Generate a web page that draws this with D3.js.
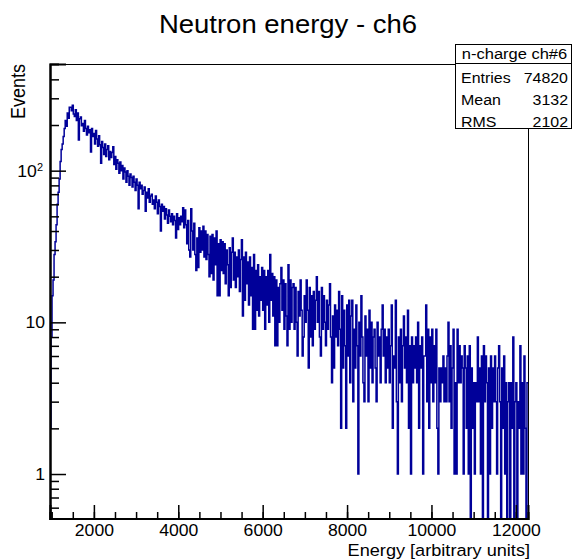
<!DOCTYPE html>
<html>
<head>
<meta charset="utf-8">
<script src="https://cdn.jsdelivr.net/npm/d3@7"></script>
<style>
  html, body { margin: 0; padding: 0; background: #fff; }
  svg { display: block; font-family: "Liberation Sans", Arial, Helvetica, sans-serif; }
</style>
</head>
<body>
<svg id="chart" width="572" height="559"></svg>
<script>
// Histogram binning: fixed-width bins starting at binStart
const binStart = 960;
const binWidth = 24;

// Events per bin
const counts = [
  2, 8, 15, 19, 28, 34, 44, 60, 72, 88,
  115, 138, 150, 168, 190, 214, 196, 240, 222, 262,
  262, 248, 270, 236, 228, 252, 214, 240, 159, 220,
  226, 198, 205, 182, 214, 190, 172, 196, 178, 186,
  133, 190, 168, 176, 150, 184, 162, 145, 170, 148,
  112, 156, 142, 128, 150, 124, 138, 146, 118, 134,
  122, 132, 144, 110, 124, 102, 118, 112, 96, 114,
  100, 108, 88, 104, 98, 84, 100, 92, 80, 95,
  90, 78, 92, 84, 74, 88, 80, 56, 84, 76,
  80, 70, 74, 78, 54, 72, 66, 76, 62, 68,
  70, 60, 64, 56, 68, 62, 52, 64, 58, 40,
  60, 54, 58, 48, 56, 51, 45, 55, 50, 46,
  52, 44, 50, 47, 36, 52, 41, 49, 44, 50,
  46, 57, 42, 55, 44, 33, 47, 30, 27, 56,
  40, 30, 45, 28, 22, 36, 23, 42, 29, 40,
  30, 43, 27, 40, 26, 38, 28, 20, 37, 21,
  38, 19, 36, 24, 40, 15, 33, 15, 35, 22,
  34, 21, 33, 18, 30, 24, 15, 31, 17, 29,
  36, 19, 29, 17, 27, 20, 30, 16, 26, 35,
  11, 27, 14, 29, 18, 25, 13, 27, 15, 23,
  9, 28, 9, 22, 12, 24, 11, 20, 14, 23,
  12, 22, 9, 20, 13, 22, 10, 28, 14, 21,
  11, 20, 7, 19, 7, 17, 10, 18, 23, 12,
  19, 9, 18, 11, 7, 24, 9, 19, 10, 17,
  18, 9, 17, 10, 6, 16, 11, 19, 12, 6,
  8, 15, 10, 19, 12, 5, 17, 8, 15, 7,
  16, 9, 14, 20, 10, 16, 8, 6, 17, 9,
  15, 10, 7, 14, 9, 13, 18, 8, 4, 11,
  5, 13, 8, 12, 7, 16, 9, 2, 15, 5,
  12, 7, 2, 13, 6, 14, 4, 11, 14, 3,
  9, 5, 13, 7, 1, 10, 6, 15, 8, 4,
  3, 11, 6, 9, 3, 12, 5, 10, 4, 8,
  9, 5, 3, 10, 6, 8, 4, 9, 13, 6,
  9, 4, 8, 5, 9, 4, 7, 13, 2, 6,
  5, 14, 3, 1, 8, 4, 9, 3, 7, 11,
  5, 8, 4, 12, 2, 7, 1, 8, 4, 7,
  5, 8, 4, 10, 2, 7, 5, 8, 1, 6,
  6, 13, 3, 9, 2, 8, 4, 9, 3, 7,
  4, 9, 2, 1, 5, 3, 5, 4, 6, 3,
  5, 3, 6, 10, 3, 7, 2, 5, 9, 1,
  4, 1, 9, 4, 7, 4, 6, 5, 1, 7,
  5, 2, 6, 1, 7, 0, 5, 2, 4, 1,
  4, 3, 8, 3, 5, 1, 6, 0, 7, 3,
  6, 4, 0, 5, 1, 6, 2, 5, 3, 6,
  3, 1, 5, 7, 3, 0, 5, 2, 6, 1,
  4, 0, 3, 4, 0, 4, 2, 8, 0, 3,
  4, 0, 3, 2, 7, 1, 4, 1, 6, 2,
  0, 4
];

// Axis ranges and ticks
const xRange = [960, 12288];
const yRange = [0.509, 505];
const xMajorTicks = [2000, 4000, 6000, 8000, 10000, 12000];
const xMinorTicks = d3.range(1000, 12001, 500);
const yMajorTicks = [1, 10, 100];
const yMajorLabels = [["1", ""], ["10", ""], ["10", "2"]];
const yMinorTicks = [0.6, 0.7, 0.8, 0.9, 2, 3, 4, 5, 6, 7, 8, 9,
                     20, 30, 40, 50, 60, 70, 80, 90, 200, 300, 400];

// Text content
const titleText = "Neutron energy - ch6";
const xTitle = "Energy [arbitrary units]";
const yTitle = "Events";
const statsName = "n-charge ch#6";
const statsLabels = ["Entries", "Mean", "RMS"];
const statsValues = ["74820", "3132", "2102"];

// Layout
const frame = { left: 50, right: 528, top: 64, bottom: 518.5 };
const stretch = 1.1;  // glyphs are drawn slightly wide
const lineColor = "#000099";

const svg = d3.select("#chart");

const x = d3.scaleLinear().domain(xRange).range([frame.left, frame.right]);
const y = d3.scaleLog().domain(yRange).range([frame.bottom, frame.top]);

// Clip for the histogram
svg.append("defs").append("clipPath").attr("id", "frameClip")
  .append("rect")
  .attr("x", frame.left).attr("y", frame.top)
  .attr("width", frame.right - frame.left)
  .attr("height", frame.bottom - frame.top);

// Histogram step line; empty bins drop to the bottom of the frame
const yv = v => v > 0 ? y(v) : frame.bottom + 3;
const edge = i => x(binStart + i * binWidth);
let d = `M${edge(0)},${yv(counts[0])}`;
counts.forEach((c, i) => {
  d += `H${edge(i + 1)}`;
  if (i + 1 < counts.length) d += `V${yv(counts[i + 1])}`;
});
svg.append("path")
  .attr("d", d)
  .attr("clip-path", "url(#frameClip)")
  .attr("fill", "none")
  .attr("stroke", lineColor)
  .attr("stroke-width", 1.5);

// Frame
svg.append("rect")
  .attr("x", frame.left + 0.5).attr("y", frame.top + 0.5)
  .attr("width", frame.right - frame.left)
  .attr("height", frame.bottom - frame.top - 0.5)
  .attr("fill", "none").attr("stroke", "#000").attr("stroke-width", 1);

// X axis
const xAxisMinor = d3.axisBottom(x).tickValues(xMinorTicks).tickSize(-6.5).tickFormat("");
const xAxisMajor = d3.axisBottom(x).tickValues(xMajorTicks).tickSize(-13.5)
  .tickPadding(6).tickFormat(d3.format("d"));
const gxm = svg.append("g").attr("transform", `translate(0,${frame.bottom})`).call(xAxisMinor);
const gx = svg.append("g").attr("transform", `translate(0,${frame.bottom})`).call(xAxisMajor);
[gxm, gx].forEach(g => {
  g.select(".domain").attr("stroke-width", 2);
  g.selectAll(".tick line").attr("stroke", "#000").attr("stroke-width", 1.5);
});
gx.selectAll(".tick text")
  .attr("font-size", 16).attr("fill", "#000")
  .attr("font-family", "Liberation Sans, Arial, sans-serif")
  .attr("transform", `scale(${stretch},1)`);

// Y axis
const yAxisMinor = d3.axisLeft(y).tickValues(yMinorTicks).tickSize(-9).tickFormat("");
const yAxisMajor = d3.axisLeft(y).tickValues(yMajorTicks).tickSize(-16).tickFormat("");
const gym = svg.append("g").attr("transform", `translate(${frame.left},0)`).call(yAxisMinor);
const gy = svg.append("g").attr("transform", `translate(${frame.left},0)`).call(yAxisMajor);
[gym, gy].forEach(g => {
  g.select(".domain").attr("stroke-width", 2);
  g.selectAll(".tick line").attr("stroke", "#000").attr("stroke-width", 1.5);
});

// Y tick labels (power-of-ten notation)
yMajorTicks.forEach((v, i) => {
  const [base, exp] = yMajorLabels[i];
  const t = svg.append("text")
    .attr("transform", `translate(${exp ? 43 : 45},${y(v) + 6}) scale(${stretch},1)`)
    .attr("text-anchor", "end")
    .attr("font-size", 16);
  t.append("tspan").text(base);
  if (exp) {
    t.append("tspan").attr("font-size", 10).attr("dy", -6).text(exp);
  }
});

// Title
svg.append("text")
  .attr("transform", `translate(288,33) scale(${stretch},1)`)
  .attr("text-anchor", "middle")
  .attr("font-size", 25)
  .text(titleText);

// Axis titles
svg.append("text")
  .attr("transform", `translate(530,555.5) scale(${stretch},1)`)
  .attr("text-anchor", "end")
  .attr("font-size", 16.5)
  .text(xTitle);

svg.append("text")
  .attr("transform", `translate(25,${frame.top}) rotate(-90) scale(1,${stretch})`)
  .attr("text-anchor", "end")
  .attr("font-size", 18)
  .text(yTitle);

// Statistics box
const box = { left: 455.5, right: 571.5, top: 44.5, sep: 63.5, bottom: 128.5 };
svg.append("rect")
  .attr("x", box.left).attr("y", box.top)
  .attr("width", box.right - box.left).attr("height", box.bottom - box.top)
  .attr("fill", "#fff").attr("stroke", "#000").attr("stroke-width", 1);
svg.append("line")
  .attr("x1", box.left).attr("x2", box.right)
  .attr("y1", box.sep).attr("y2", box.sep)
  .attr("stroke", "#000");
svg.append("text")
  .attr("transform", `translate(${(box.left + box.right) / 2 + 1},59) scale(${stretch},1)`)
  .attr("text-anchor", "middle")
  .attr("font-size", 15)
  .text(statsName);
const rowBase = [83, 105, 126.5];
statsLabels.forEach((lab, i) => {
  svg.append("text")
    .attr("transform", `translate(461,${rowBase[i]}) scale(${stretch},1)`)
    .attr("font-size", 14.5)
    .text(lab);
  svg.append("text")
    .attr("transform", `translate(568,${rowBase[i]}) scale(${stretch},1)`)
    .attr("text-anchor", "end")
    .attr("font-size", 14.5)
    .text(statsValues[i]);
});
</script>
</body>
</html>
